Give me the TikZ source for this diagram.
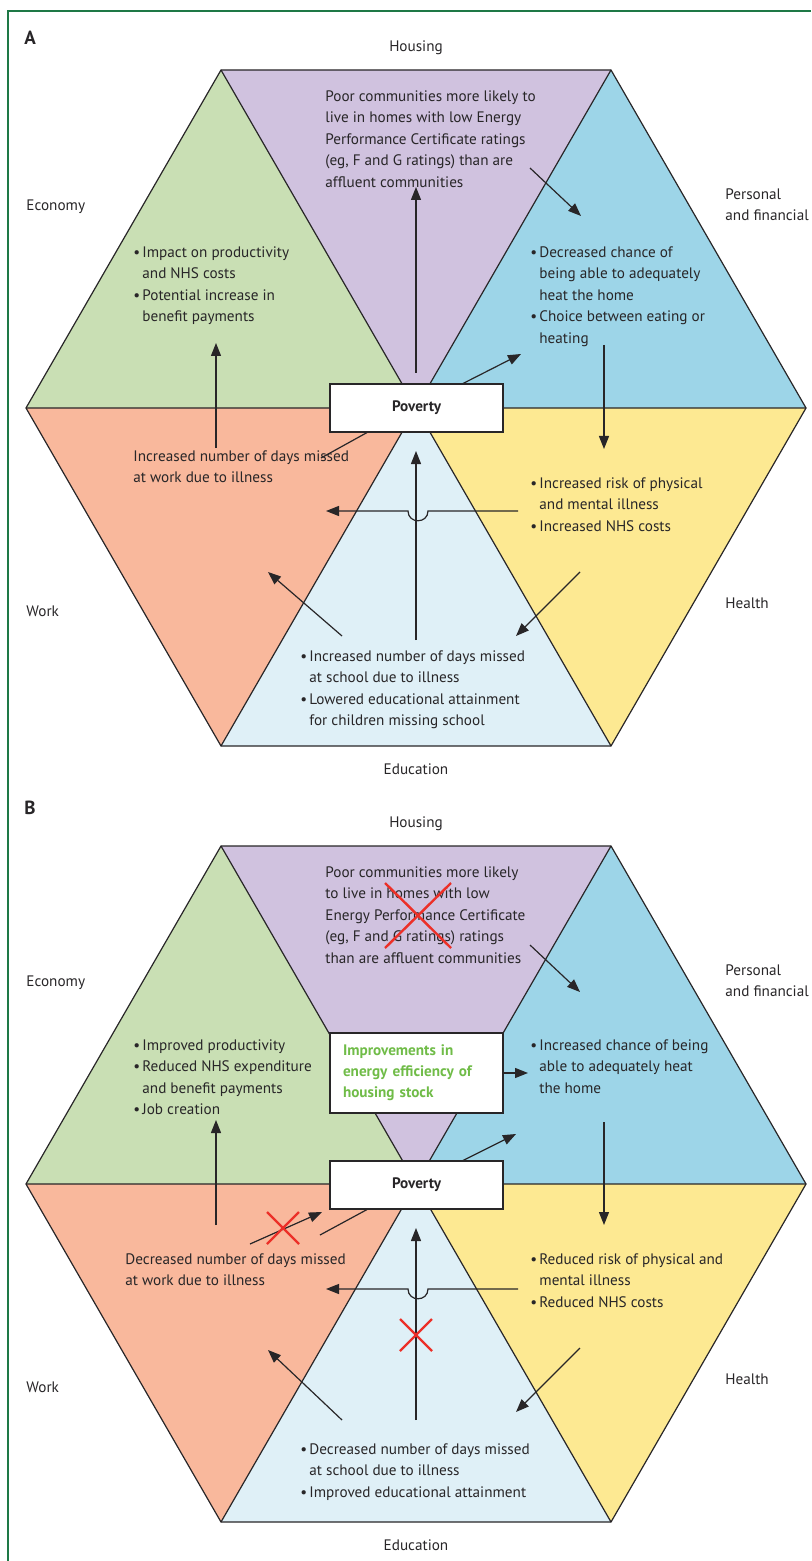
\documentclass[tikz,border=0pt]{standalone}
\usepackage{fontspec}
\setmainfont{PT Sans}
\usetikzlibrary{arrows.meta}

\definecolor{econgreen}{RGB}{201,223,180}
\definecolor{housepurple}{RGB}{208,194,223}
\definecolor{persblue}{RGB}{157,213,232}
\definecolor{healthyellow}{RGB}{253,233,146}
\definecolor{edublue}{RGB}{223,240,247}
\definecolor{worksalmon}{RGB}{249,184,156}
\definecolor{framegreen}{RGB}{30,120,70}
\definecolor{inkgray}{RGB}{40,38,40}
\definecolor{effgreen}{RGB}{112,188,72}
\definecolor{crossred}{RGB}{236,48,40}

\tikzset{
  edge/.style={draw=inkgray, line width=0.6pt, line join=miter},
  arr/.style={draw=inkgray, line width=0.6pt, -{Triangle[length=6.5pt,width=5pt]}},
  txt/.style={inner sep=0pt, anchor=north west, align=left, text=inkgray,
    font=\fontsize{7.6}{10.8}\selectfont},
  sect/.style={inner sep=0pt, text=inkgray, font=\fontsize{7.6}{10.8}\selectfont},
  box/.style={draw=inkgray, fill=white, line width=0.6pt, inner sep=0pt,
    minimum width=86.5pt, text=inkgray, font=\fontsize{7.6}{10.5}\selectfont\bfseries},
  nix/.style={draw=crossred, line width=1.2pt},
  panel/.style={inner sep=0pt, anchor=west, text=inkgray, font=\fontsize{9.5}{10}\selectfont\bfseries},
}

\newcommand{\itm}{\makebox[4.5pt][l]{\textbullet}}
\newcommand{\ind}{\hspace*{4.5pt}}

% hexagon of six coloured sectors, with the sector names
\newcommand{\hexpanel}[1]{%
  \coordinate (#1TL) at (221,70);
  \coordinate (#1TR) at (611,70);
  \coordinate (#1R) at (806,408);
  \coordinate (#1BR) at (611,746);
  \coordinate (#1BL) at (221,746);
  \coordinate (#1L) at (26,408);
  \coordinate (#1C) at (416,408);
  \fill[econgreen] (#1TL) -- (#1L) -- (#1C) -- cycle;
  \fill[housepurple] (#1TL) -- (#1TR) -- (#1C) -- cycle;
  \fill[persblue] (#1TR) -- (#1R) -- (#1C) -- cycle;
  \fill[healthyellow] (#1R) -- (#1BR) -- (#1C) -- cycle;
  \fill[edublue] (#1BR) -- (#1BL) -- (#1C) -- cycle;
  \fill[worksalmon] (#1BL) -- (#1L) -- (#1C) -- cycle;
  \draw[edge] (#1TL) -- (#1TR) -- (#1R) -- (#1BR) -- (#1BL) -- (#1L) -- cycle;
  \draw[edge] (#1TL) -- (#1BR) (#1TR) -- (#1BL) (#1L) -- (#1R);
  \node[sect] (#1Housing) at (416,48) {Housing};
  \node[sect, anchor=west] (#1Economy) at (26,207) {Economy};
  \node[sect, anchor=north west, align=left] (#1Personal) at (725,188) {Personal\\and financial};
  \node[sect, anchor=west] (#1Work) at (26,611) {Work};
  \node[sect, anchor=west] (#1Health) at (725,603) {Health};
  \node[sect] (#1Education) at (416,769) {Education};
}

\begin{document}
\begin{tikzpicture}[x=0.5pt, y=-0.5pt]
  \useasboundingbox (0,0) rectangle (811,1561);

  % Frame
  \draw[framegreen, line width=0.8pt] (8,1561) -- (8,11) -- (811,11);

  % ---------------- Panel A ----------------
  \begin{scope}
    \hexpanel{a}
    \node[panel] (aTag) at (24,38) {A};

    % Text in the sectors
    \node[txt] (aHouseTxt) at (325,90) {Poor communities more likely to\\live in homes with low Energy\\Performance Certificate ratings\\(eg, F and G ratings) than are\\affluent communities};
    \node[txt] (aPersTxt) at (530,246) {\itm Decreased chance of\\\ind being able to adequately\\\ind heat the home\\\itm Choice between eating or\\\ind heating};
    \node[txt] (aEconTxt) at (133,246) {\itm Impact on productivity\\\ind and NHS costs\\\itm Potential increase in\\\ind benefit payments};
    \node[txt] (aWorkTxt) at (133,450) {Increased number of days missed\\at work due to illness};
    \node[txt] (aHealthTxt) at (530,477) {\itm Increased risk of physical\\\ind and mental illness\\\itm Increased NHS costs};
    \node[txt] (aEduTxt) at (300,650) {\itm Increased number of days missed\\\ind at school due to illness\\\itm Lowered educational attainment\\\ind for children missing school};

    \node[box, minimum height=24pt] (aPov) at (416.5,408) {Poverty};

    % Arrows
    \coordinate (aPovUp) at (416,373);     \coordinate (aHouseIn) at (416,187);
    \coordinate (aHouseOut) at (530,168);  \coordinate (aPersIn) at (581,216);
    \coordinate (aPovOut) at (462,384);    \coordinate (aPersIn2) at (521,354);
    \coordinate (aPersOut) at (604,345);   \coordinate (aHealthIn) at (604,449);
    \coordinate (aHealthOut) at (518,511); \coordinate (aWorkIn) at (326,511);
    \coordinate (aEduUp) at (416,640);     \coordinate (aPovIn) at (416,451);
    \coordinate (aHealthOut2) at (580,572);\coordinate (aEduIn) at (516,636);
    \coordinate (aEduOut) at (342,636);    \coordinate (aWorkIn2) at (268,572);
    \coordinate (aWorkOut) at (216,448);   \coordinate (aEconIn) at (216,343);
    \coordinate (aPovLow) at (368,432);    \coordinate (aWorkEnd) at (321,458);

    \draw[arr] (aPovUp) -- (aHouseIn);
    \draw[arr] (aHouseOut) -- (aPersIn);
    \draw[arr] (aPovOut) -- (aPersIn2);
    \draw[arr] (aPersOut) -- (aHealthIn);
    \draw[arr] (aHealthOut) -- (428,511) .. controls (428,524) and (408,524) .. (408,511) -- (aWorkIn);
    \draw[arr] (aEduUp) -- (aPovIn);
    \draw[arr] (aHealthOut2) -- (aEduIn);
    \draw[arr] (aEduOut) -- (aWorkIn2);
    \draw[arr] (aWorkOut) -- (aEconIn);
    \draw[edge] (aPovLow) -- (aWorkEnd);
  \end{scope}

  % ---------------- Panel B ----------------
  \begin{scope}[shift={(0,776)}]
    \hexpanel{b}
    \node[panel] (bTag) at (24,32) {B};

    % Text in the sectors
    \node[txt] (bHouseTxt) at (325,90) {Poor communities more likely\\to live in homes with low\\Energy Performance Certificate\\(eg, F and G ratings) ratings\\than are affluent communities};
    \node[txt] (bPersTxt) at (530,263) {\itm Increased chance of being\\\ind able to adequately heat\\\ind the home};
    \node[txt] (bEconTxt) at (133,263) {\itm Improved productivity\\\itm Reduced NHS expenditure\\\ind and benefit payments\\\itm Job creation};
    \node[txt] (bWorkTxt) at (125,477) {Decreased number of days missed\\at work due to illness};
    \node[txt] (bHealthTxt) at (530,477) {\itm Reduced risk of physical and\\\ind mental illness\\\itm Reduced NHS costs};
    \node[txt] (bEduTxt) at (300,667) {\itm Decreased number of days missed\\\ind at school due to illness\\\itm Improved educational attainment};

    \node[box, minimum height=40pt, text width=73.5pt, inner xsep=6.5pt, align=left,
      text=effgreen] (bEff) at (416.5,297) {Improvements in\\energy efficiency of\\housing stock};
    \node[box, minimum height=24pt] (bPov) at (416.5,409) {Poverty};

    % Arrows
    \coordinate (bHouseOut) at (530,169);  \coordinate (bPersIn) at (580,216);
    \coordinate (bPersIn3) at (528,297);
    \coordinate (bPovOut) at (462,385);    \coordinate (bPersIn2) at (516,358);
    \coordinate (bPersOut) at (604,346);   \coordinate (bHealthIn) at (604,449);
    \coordinate (bHealthOut) at (518,513); \coordinate (bWorkIn) at (326,513);
    \coordinate (bEduUp) at (416,644);     \coordinate (bPovIn) at (416,452);
    \coordinate (bHealthOut2) at (580,572);\coordinate (bEduIn) at (516,636);
    \coordinate (bEduOut) at (342,644);    \coordinate (bWorkIn2) at (268,574);
    \coordinate (bWorkOut) at (216,449);   \coordinate (bEconIn) at (216,344);
    \coordinate (bPovLow) at (368,433);    \coordinate (bWorkEnd) at (320,459);
    \coordinate (bWorkOut2) at (250,468);  \coordinate (bPovIn2) at (322,436);

    \draw[arr] (bHouseOut) -- (bPersIn);
    \draw[arr] (bEff.east) -- (bPersIn3);
    \draw[arr] (bPovOut) -- (bPersIn2);
    \draw[arr] (bPersOut) -- (bHealthIn);
    \draw[arr] (bHealthOut) -- (428,513) .. controls (428,526) and (408,526) .. (408,513) -- (bWorkIn);
    \draw[arr] (bEduUp) -- (bPovIn);
    \draw[arr] (bHealthOut2) -- (bEduIn);
    \draw[arr] (bEduOut) -- (bWorkIn2);
    \draw[arr] (bWorkOut) -- (bEconIn);
    \draw[edge] (bPovLow) -- (bWorkEnd);
    \draw[arr] (bWorkOut2) -- (bPovIn2);

    % Red crosses
    \draw[nix] (385,107) -- (451,172) (451,107) -- (385,172);
    \draw[nix] (267,436) -- (299,468) (299,436) -- (267,468);
    \draw[nix] (400,543) -- (432,575) (432,543) -- (400,575);
  \end{scope}
\end{tikzpicture}
\end{document}
